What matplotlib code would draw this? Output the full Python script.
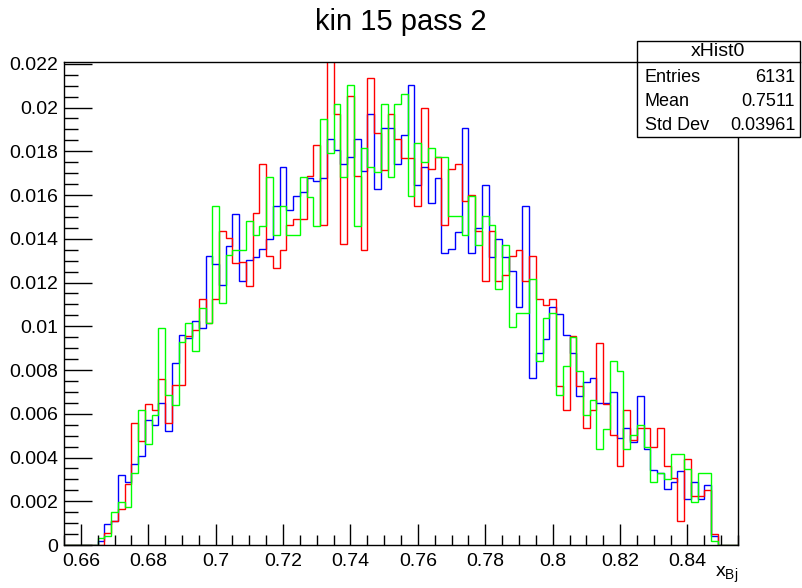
import numpy as np
import matplotlib
matplotlib.use("Agg")
import matplotlib.pyplot as plt
from matplotlib.ticker import MultipleLocator, FuncFormatter

plt.rcParams["font.family"] = ["Liberation Sans", "DejaVu Sans"]

# histogram binning: 100 bins of 0.002 from 0.655 to 0.855
x_lo, x_hi, n_bins = 0.655, 0.855, 100
first_bin = 5  # first filled bin, values below start there

blue = [0.0002, 0.00096, 0.0011, 0.0032, 0.00289, 0.0037, 0.00405, 0.0057, 0.0055, 0.0065,
        0.0052, 0.0083, 0.0096, 0.00945, 0.01024, 0.00994, 0.0132, 0.01286, 0.01187, 0.01368,
        0.01514, 0.01205, 0.01304, 0.01317, 0.01355, 0.0140, 0.01548, 0.01726, 0.0153, 0.01597,
        0.01613, 0.01679, 0.01662, 0.01677, 0.01857, 0.01808, 0.01743, 0.01776, 0.01857, 0.01711,
        0.01971, 0.01629, 0.01907, 0.01907, 0.01743, 0.01874, 0.02103, 0.01645, 0.01727, 0.01563,
        0.01679, 0.01335, 0.01352, 0.01432, 0.01907, 0.01335, 0.01449, 0.01645, 0.01318, 0.01399,
        0.01318, 0.01254, 0.0109, 0.01548, 0.00764, 0.00878, 0.00944, 0.0109, 0.01058, 0.0096,
        0.00878, 0.00682, 0.00746, 0.00764, 0.00651, 0.00651, 0.00699, 0.00487, 0.00536, 0.00469,
        0.00682, 0.00438, 0.00342, 0.0033, 0.00257, 0.00289, 0.00339, 0.00209, 0.00289, 0.00209,
        0.00274, 0.0004]
red = [0.0, 0.00053, 0.0011, 0.00166, 0.00279, 0.0056, 0.00476, 0.00645, 0.00616, 0.00757,
       0.0056, 0.0073, 0.0073, 0.00954, 0.00982, 0.01123, 0.01015, 0.01123, 0.01434, 0.01405,
       0.0129, 0.01292, 0.01183, 0.01519, 0.01744, 0.0132, 0.01266, 0.0135, 0.01461, 0.0149,
       0.0149, 0.01688, 0.01828, 0.01461, 0.0235, 0.01969, 0.01377, 0.02053, 0.01688, 0.0135,
       0.02137, 0.01884, 0.01715, 0.01969, 0.01857, 0.0177, 0.0177, 0.01548, 0.01997, 0.01717,
       0.01772, 0.01463, 0.01717, 0.01743, 0.01574, 0.01601, 0.01437, 0.01207, 0.01437, 0.01207,
       0.01236, 0.01321, 0.01348, 0.01209, 0.01321, 0.01125, 0.01096, 0.01125, 0.00729, 0.00616,
       0.00956, 0.00729, 0.00533, 0.00616, 0.00925, 0.00644, 0.00502, 0.00362, 0.00616, 0.00479,
       0.00533, 0.00533, 0.00449, 0.00533, 0.00362, 0.00307, 0.0011, 0.00391, 0.00224, 0.00224,
       0.00251, 0.0005]
green = [0.0003, 0.00041, 0.0015, 0.00196, 0.00175, 0.0033, 0.00616, 0.0046, 0.00595, 0.00994,
         0.00686, 0.0064, 0.00927, 0.01015, 0.00886, 0.01084, 0.01015, 0.0155, 0.01106, 0.01327,
         0.0135, 0.0135, 0.01482, 0.01416, 0.0146, 0.01682, 0.01416, 0.01548, 0.01416, 0.01415,
         0.01682, 0.01592, 0.0146, 0.01948, 0.01793, 0.02015, 0.01682, 0.02102, 0.0146, 0.01816,
         0.01726, 0.01705, 0.02015, 0.01682, 0.02015, 0.02061, 0.01594, 0.01839, 0.0175, 0.01816,
         0.01772, 0.01772, 0.01505, 0.01505, 0.01415, 0.01594, 0.01373, 0.01505, 0.01461, 0.01172,
         0.01371, 0.00995, 0.01061, 0.01061, 0.01216, 0.0084, 0.0104, 0.01061, 0.00685, 0.00819,
         0.00951, 0.00795, 0.00594, 0.00662, 0.00441, 0.0053, 0.00839, 0.00795, 0.00441, 0.00505,
         0.00549, 0.0045, 0.00286, 0.0033, 0.003, 0.00417, 0.00417, 0.00346, 0.00195, 0.0033,
         0.0033, 0.0002]

stats_name = "xHist0"
stats_rows = [("Entries", "6131"), ("Mean", "0.7511"), ("Std Dev", "0.03961")]


def full(vals):
    h = np.zeros(n_bins)
    h[first_bin:first_bin + len(vals)] = vals
    return h


def main() -> None:
    fig = plt.figure(figsize=(8.02, 5.88), dpi=100)
    ax = fig.add_axes([0.0798, 0.0731, 0.8404, 0.8215])
    edges = np.linspace(x_lo, x_hi, n_bins + 1)

    for vals, col in [(blue, "#0000ff"), (red, "#ff0000"), (green, "#00ff00")]:
        ax.stairs(full(vals), edges, color=col, lw=1.0, clip_on=True)

    ax.set_xlim(x_lo, x_hi)
    ax.set_ylim(0, 1.05 * max(blue))

    ax.xaxis.set_major_locator(MultipleLocator(0.02))
    ax.xaxis.set_minor_locator(MultipleLocator(0.005))
    ax.yaxis.set_major_locator(MultipleLocator(0.002))
    ax.yaxis.set_minor_locator(MultipleLocator(0.0005))
    fmt = FuncFormatter(lambda v, p: "%g" % round(v, 6))
    ax.xaxis.set_major_formatter(fmt)
    ax.yaxis.set_major_formatter(fmt)
    ax.tick_params(which="both", direction="in", top=False, right=False,
                   labelsize=14, width=1.0, color="black")
    ax.tick_params(axis="x", which="major", length=15, pad=6)
    ax.tick_params(axis="x", which="minor", length=7.5)
    ax.tick_params(axis="y", which="major", length=20, pad=4)
    ax.tick_params(axis="y", which="minor", length=10)
    for s in ax.spines.values():
        s.set_linewidth(1.0)

    ax.text(1.0, -0.066, r"$\mathregular{x_{Bj}}$", transform=ax.transAxes,
            ha="right", va="baseline", fontsize=14)
    fig.text(0.5, 0.963, "kin 15 pass 2", ha="center", va="center", fontsize=21)

    # stats box
    bx0, bx1, by0, by1, sep = 0.794, 0.9975, 0.767, 0.930, 0.8946
    fig.patches.append(plt.Rectangle((bx0, by0), bx1 - bx0, by1 - by0,
                                     transform=fig.transFigure, fill=True,
                                     facecolor="white", edgecolor="black", lw=1.0, zorder=5))
    fig.lines.append(plt.Line2D([bx0, bx1], [sep, sep], transform=fig.transFigure,
                                color="black", lw=1.0, zorder=6))
    fig.text((bx0 + bx1) / 2, (by1 + sep) / 2, stats_name, ha="center", va="center",
             fontsize=14, zorder=7)
    row_y = [0.868, 0.827, 0.786]
    for (lab, val), yy in zip(stats_rows, row_y):
        fig.text(bx0 + 0.01, yy, lab, ha="left", va="center", fontsize=13, zorder=7)
        fig.text(bx1 - 0.006, yy, val, ha="right", va="center", fontsize=13, zorder=7)

    fig.savefig("out.png", dpi=100)


if __name__ == "__main__":
    main()
